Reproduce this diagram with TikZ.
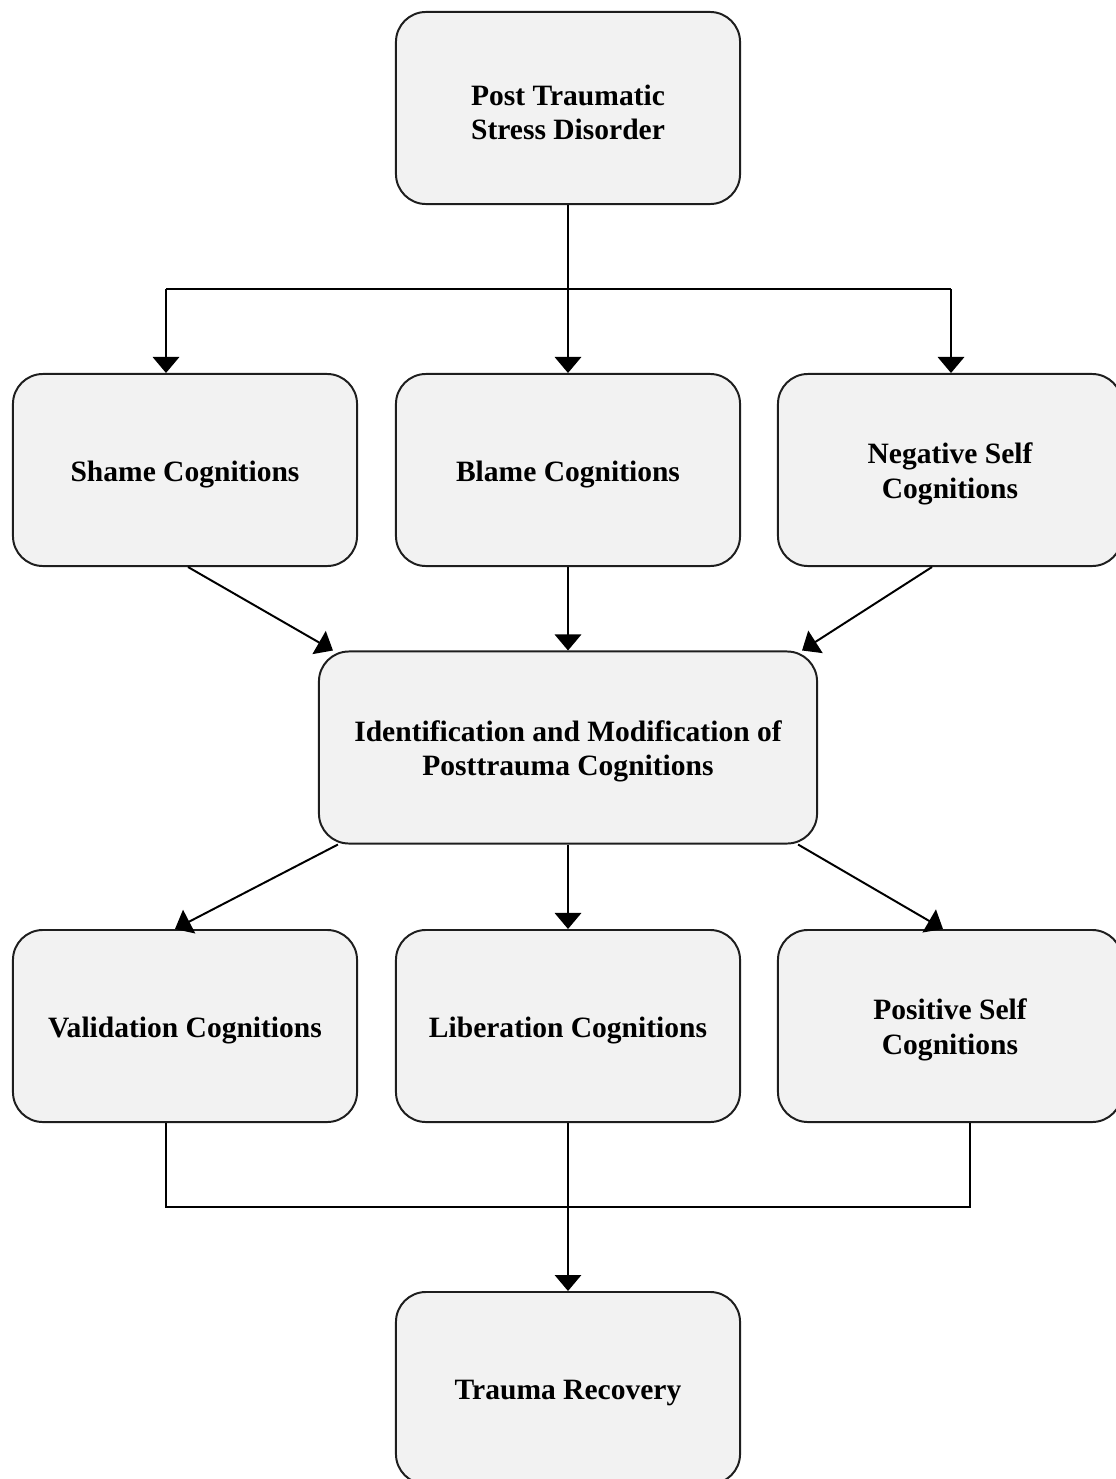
\documentclass[tikz,border=0pt]{standalone}
\usepackage{fontspec}
\setmainfont{Liberation Serif}
\usetikzlibrary{arrows.meta,calc}
\definecolor{boxfill}{HTML}{F2F2F2}
\definecolor{boxline}{HTML}{1E1E1E}
% tall invisible strut on the first line: sets the text a little below the centre
\newcommand\liftline{\rule{0pt}{0.72cm}}
\begin{document}
\begin{tikzpicture}[x=0.025cm,y=-0.025cm,
  card/.style={draw=boxline,fill=boxfill,line width=1.4pt,rounded corners=0.75cm,
    minimum width=8.6cm,minimum height=4.8cm,inner sep=0pt,align=center,
    font=\bfseries\fontsize{21}{24.5}\selectfont},
  wide/.style={card,minimum width=12.45cm},
  link/.style={draw=black,line width=1.4pt},
  arr/.style={link,-{Triangle[width=0.66cm,length=0.4cm]}}]
\useasboundingbox (0,0) rectangle (1116,1479);
\clip (0,0) rectangle (1116,1479);

% boxes
\node[card] (ptsd) at (568,108) {\liftline Post Traumatic\\Stress Disorder};
\node[card] (shame) at (185,470) {\liftline Shame Cognitions};
\node[card] (blame) at (568,470) {\liftline Blame Cognitions};
\node[card] (neg) at (950,470) {\liftline Negative Self\\Cognitions};
\node[wide] (ident) at (568,747.5) {\liftline Identification and Modification of\\Posttrauma Cognitions};
\node[card] (valid) at (185,1026) {\liftline Validation Cognitions};
\node[card] (liber) at (568,1026) {\liftline Liberation Cognitions};
\node[card] (pos) at (950,1026) {\liftline Positive Self\\Cognitions};
\node[card] (recov) at (568,1388) {\liftline Trauma Recovery};

% branching from the top box
\coordinate (busL) at (166,289);
\coordinate (busR) at (951,289);
\draw[arr] (ptsd.south) -- (blame.north);
\draw[link] (busL) -- (busR);
\draw[arr] (busL) -- (busL |- shame.north);
\draw[arr] (busR) -- (busR |- neg.north);

% into the central box
\draw[arr] ($(shame.south)+(3,0)$) -- ($(ident.north west)+(15,0)$);
\draw[arr] (blame.south) -- (ident.north);
\draw[arr] ($(neg.south)+(-18,0)$) -- ($(ident.north east)+(-16,0)$);

% out of the central box
\draw[arr] ($(ident.south west)+(20,0)$) -- ($(valid.north)+(-10,0)$);
\draw[arr] (ident.south) -- (liber.north);
\draw[arr] ($(ident.south east)+(-20,0)$) -- ($(pos.north)+(-7,0)$);

% joining into recovery
\coordinate (joinL) at (166,1207);
\coordinate (joinR) at (970,1207);
\draw[link] (joinL |- valid.south) -- (joinL) -- (joinR) -- (joinR |- pos.south);
\draw[arr] (liber.south) -- (recov.north);
\end{tikzpicture}
\end{document}
